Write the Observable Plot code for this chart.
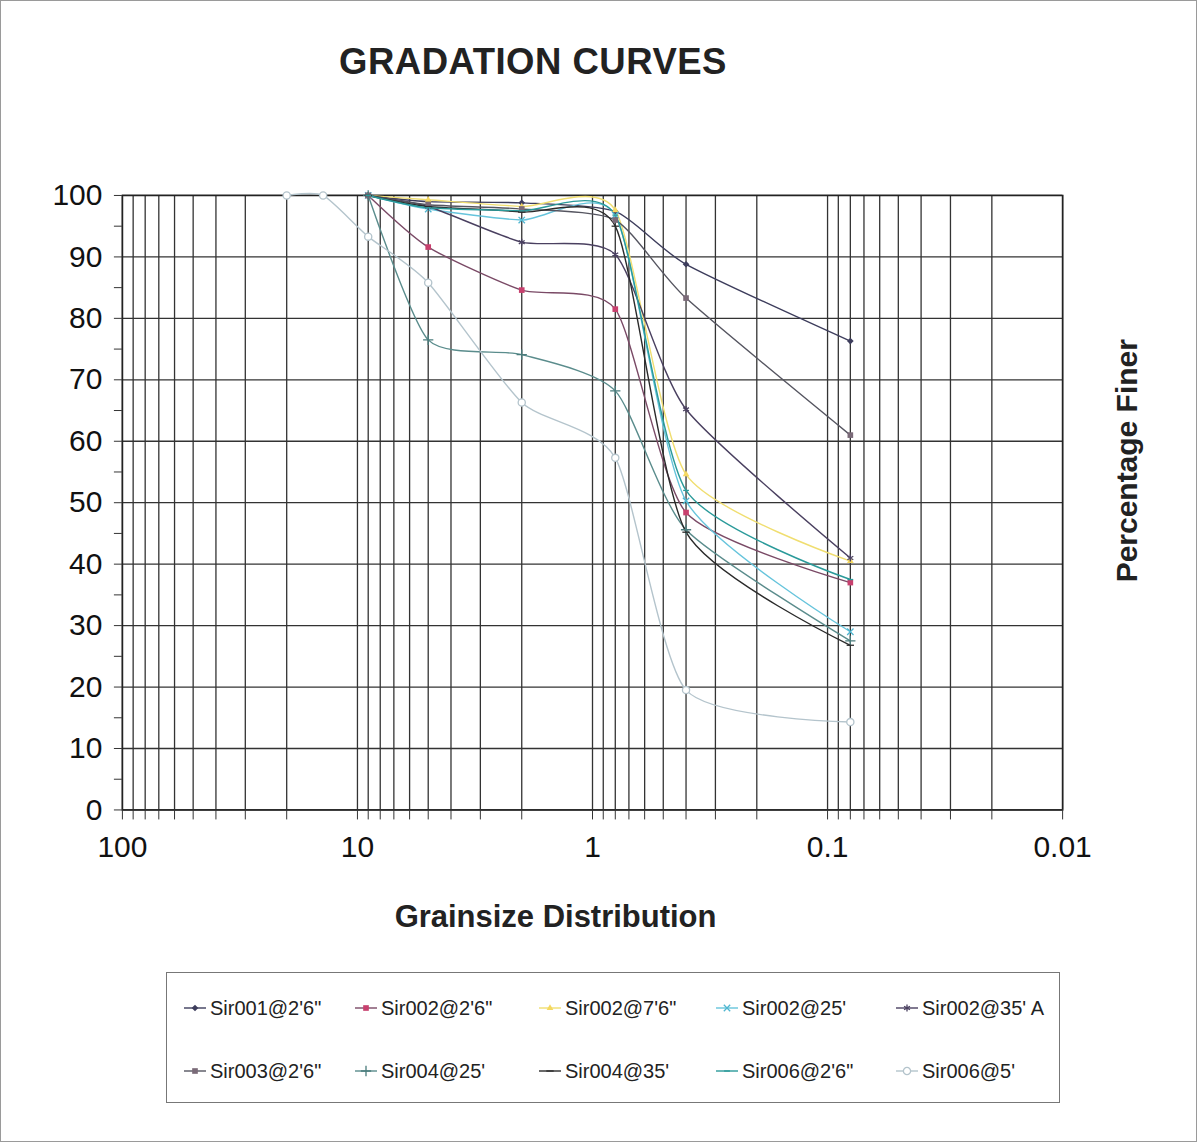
<!DOCTYPE html>
<html><head><meta charset="utf-8">
<script src="https://cdn.jsdelivr.net/npm/d3@7"></script>
<script src="https://cdn.jsdelivr.net/npm/@observablehq/plot@0.6"></script>
<style>
body{margin:0;background:#fff;font-family:Arial,"Liberation Sans",sans-serif;}
#page{position:relative;width:1195px;height:1140px;border:1px solid #9a9a9a;overflow:hidden;background:#fff;}
#title{position:absolute;left:0;width:1064px;top:40px;text-align:center;font-weight:bold;font-size:36.5px;color:#222;letter-spacing:0.5px;}
#chart{position:absolute;left:-1px;top:149px;}
#legend{position:absolute;left:165px;top:971px;width:894px;height:131px;border:1px solid #777;box-sizing:border-box;}
.item{position:absolute;display:flex;align-items:center;font-size:20px;color:#222;white-space:nowrap;height:24px;}
.item svg{margin-right:3px;}
</style></head>
<body>
<div id="page">
  <div id="title">GRADATION CURVES</div>
  <div id="chart"></div>
  <div id="legend"></div>
</div>
<script>
// ---- data ----
const sieveSizes = [20, 14, 9, 5, 2, 0.8, 0.4, 0.08];           // grain size (mm)
const seriesNames = ["Sir001@2'6\"", "Sir002@2'6\"", "Sir002@7'6\"", "Sir002@25'", "Sir002@35' A",
                     "Sir003@2'6\"", "Sir004@25'", "Sir004@35'", "Sir006@2'6\"", "Sir006@5'"];
const sir001_2_6  = [null, null, 100, 99.0, 98.8, 97.4, 88.8, 76.3];
const sir002_2_6  = [null, null, 100, 91.6, 84.6, 81.5, 48.4, 37.0];
const sir002_7_6  = [null, null, 100, 99.3, 98.2, 97.6, 54.6, 40.5];
const sir002_25   = [null, null, 100, 97.8, 96.0, 96.8, 50.3, 29.0];
const sir002_35A  = [null, null, 100, 98.2, 92.4, 90.4, 65.2, 41.0];
const sir003_2_6  = [null, null, 100, 98.5, 97.8, 96.0, 83.3, 61.0];
const sir004_25   = [null, null, 100, 76.5, 74.1, 68.2, 45.6, 27.5];
const sir004_35   = [null, null, 100, 98.2, 97.3, 95.0, 45.2, 26.8];
const sir006_2_6  = [null, null, 100, 98.0, 97.5, 96.8, 52.0, 37.5];
const sir006_5    = [100, 100, 93.3, 85.8, 66.3, 57.3, 19.5, 14.3];
const seriesValues = [sir001_2_6, sir002_2_6, sir002_7_6, sir002_25, sir002_35A,
                      sir003_2_6, sir004_25, sir004_35, sir006_2_6, sir006_5];
const xDecadeLabels = [100, 10, 1, 0.1, 0.01];
const yTickValues = d3.range(0, 101, 5);
const yGridValues = d3.range(0, 101, 10);

// ---- styles ----
const dash = {draw(ctx, size){const w = Math.sqrt(size) * 1.3; ctx.moveTo(-w/2, 0); ctx.lineTo(w/2, 0);}};
const styles = [
  {line:"#3d3d5c", mark:"#3d3d5c", symbol:"diamond2", r:3.0, filled:true},
  {line:"#7a4a66", mark:"#c8406e", symbol:"square2", r:3.6, filled:true},
  {line:"#f0de70", mark:"#f5d860", symbol:"triangle2", r:3.2, filled:true},
  {line:"#66c4dc", mark:"#4fb6d0", symbol:"times", r:3.0, filled:false},
  {line:"#4a4060", mark:"#4a4060", symbol:"asterisk", r:3.2, filled:false},
  {line:"#555560", mark:"#7a6a78", symbol:"square2", r:3.6, filled:true},
  {line:"#5a8c8c", mark:"#4a7c7c", symbol:"plus", r:3.4, filled:false},
  {line:"#2a2a2a", mark:"#2a2a2a", symbol:dash, r:3.2, filled:false},
  {line:"#2a9a9a", mark:"#2a9a9a", symbol:dash, r:2.5, filled:false},
  {line:"#b4c4cc", mark:"#b4c4cc", symbol:"circle", r:3.6, filled:false, fill:"#ffffff"}
];

const xGrid = d3.scaleLog().domain([0.01, 100]).ticks();

const marks = [
  Plot.ruleX(xGrid, {stroke:"#333", strokeWidth:1.3}),
  Plot.ruleY(yGridValues, {stroke:"#333", strokeWidth:1.3}),
  Plot.frame({stroke:"#222", strokeWidth:1.6}),
  Plot.axisY({ticks: yTickValues, tickSize:8, tickPadding:12, stroke:"#333",
              tickFormat: d => d % 10 === 0 ? String(d) : "", label:null, fontSize:30, fill:"#111"}),
  Plot.axisX({ticks: xGrid, tickSize:10, tickPadding:16, stroke:"#333",
              tickFormat: d => xDecadeLabels.includes(d) ? String(d) : "", label:null, fontSize:30, fill:"#111"})
];

seriesValues.forEach((vals, i) => {
  const rows = sieveSizes.map((s, j) => ({size:s, pct:vals[j]})).filter(d => d.pct != null);
  const st = styles[i];
  marks.push(Plot.line(rows, {x:"size", y:"pct", curve:"cardinal", tension:0.35, stroke:st.line, strokeWidth:1.4}));
});
seriesValues.forEach((vals, i) => {
  const rows = sieveSizes.map((s, j) => ({size:s, pct:vals[j]})).filter(d => d.pct != null);
  const st = styles[i];
  marks.push(Plot.dot(rows, {x:"size", y:"pct", symbol:st.symbol, r:st.r,
    fill: st.filled ? st.mark : (st.fill || "none"), stroke: st.filled ? "none" : st.mark, strokeWidth:1.3}));
});

marks.push(Plot.text(["Grainsize Distribution"], {text:d=>d, frameAnchor:"bottom", dx:-37, dy:117,
  fontWeight:"bold", fontSize:31, fill:"#222"}));
marks.push(Plot.text(["Percentage Finer"], {text:d=>d, frameAnchor:"right", textAnchor:"middle", dx:65, dy:-42, rotate:-90,
  fontWeight:"bold", fontSize:30, fill:"#222"}));

const chart = Plot.plot({
  width:1197, height:800,
  marginLeft:122, marginRight:134, marginTop:45, marginBottom:140,
  x:{type:"log", domain:[100, 0.01]},
  y:{domain:[0, 100]},
  style:{fontFamily:"Arial, 'Liberation Sans', sans-serif", background:"transparent", overflow:"visible"},
  marks
});
document.getElementById("chart").appendChild(chart);

// ---- legend ----
const legend = document.getElementById("legend");
const colX = [16, 187, 371, 548, 728];
const rowY = [23, 86];
seriesNames.forEach((name, i) => {
  const st = styles[i];
  const item = document.createElement("div");
  item.className = "item";
  item.style.left = colX[i % 5] + "px";
  item.style.top = rowY[Math.floor(i / 5)] + "px";
  const svg = d3.create("svg").attr("width", 24).attr("height", 24);
  svg.append("line").attr("x1", 1).attr("x2", 23).attr("y1", 12).attr("y2", 12)
     .attr("stroke", st.line).attr("stroke-width", 1.4);
  const symType = typeof st.symbol === "string"
    ? ({diamond2:d3.symbolDiamond2, square2:d3.symbolSquare2, triangle2:d3.symbolTriangle2,
        times:d3.symbolTimes, asterisk:d3.symbolAsterisk, plus:d3.symbolPlus, circle:d3.symbolCircle})[st.symbol]
    : st.symbol;
  svg.append("path").attr("transform", "translate(12,12)")
     .attr("d", d3.symbol(symType, Math.PI * st.r * st.r)())
     .attr("fill", st.filled ? st.mark : (st.fill || "none"))
     .attr("stroke", st.filled ? "none" : st.mark).attr("stroke-width", 1.3);
  item.appendChild(svg.node());
  const span = document.createElement("span");
  span.textContent = name;
  item.appendChild(span);
  legend.appendChild(item);
});
</script>
</body></html>
